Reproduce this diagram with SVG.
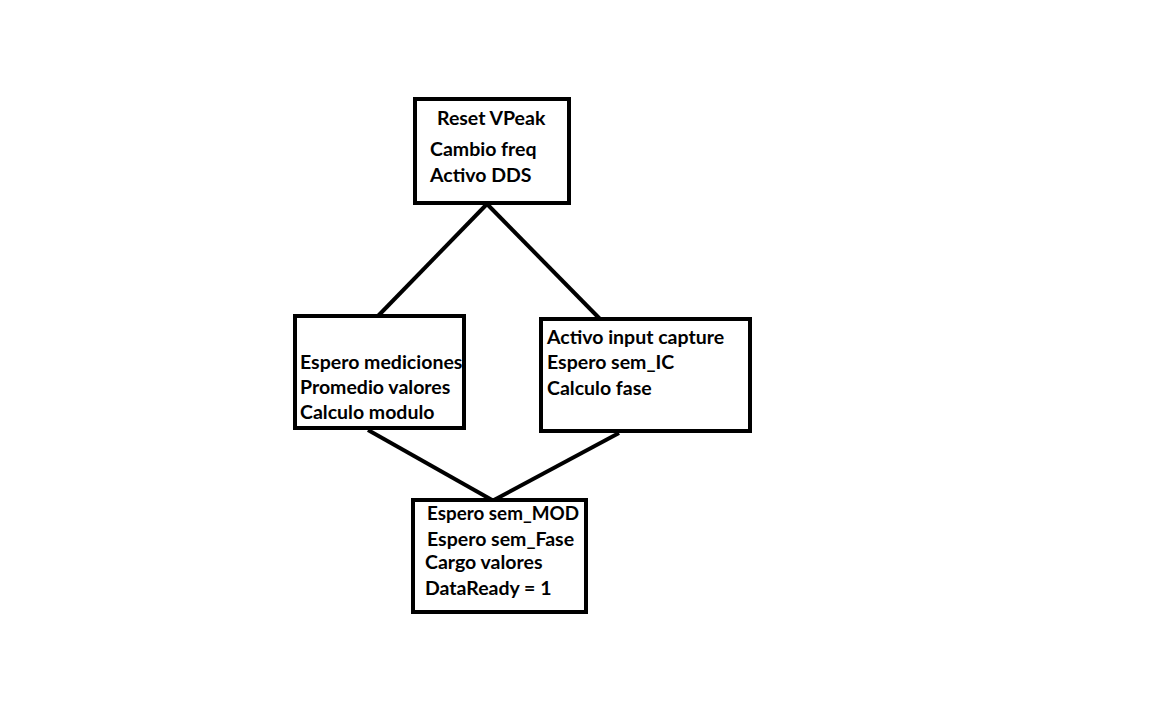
<svg xmlns="http://www.w3.org/2000/svg" width="1158" height="705" viewBox="0 0 1158 705">
<style>
.box{fill:#fff;stroke:#000;stroke-width:4}
.con{stroke:#000;stroke-width:4;fill:none}
text{font-family:Lato,"Open Sans","Liberation Sans",sans-serif;font-weight:bold;font-size:19.5px;fill:#000}
</style>
<rect width="1158" height="705" fill="#fff"/>
<g id="connectors">
<line class="con" x1="487" y1="204" x2="378" y2="316"/>
<line class="con" x1="487" y1="204" x2="600" y2="319"/>
<line class="con" x1="368" y1="430" x2="492" y2="500"/>
<line class="con" x1="619" y1="433" x2="494" y2="500"/>
</g>
<g id="n_top">
<rect class="box" x="415" y="99" width="154" height="104"/>
<text x="437" y="125">Reset VPeak</text>
<text x="430" y="156">Cambio freq</text>
<text x="430" y="182">Activo DDS</text>
</g>
<g id="n_left">
<rect class="box" x="295" y="316" width="169" height="112"/>
<text x="300" y="369">Espero mediciones</text>
<text x="300" y="394">Promedio valores</text>
<text x="300" y="419">Calculo modulo</text>
</g>
<g id="n_right">
<rect class="box" x="541" y="319" width="209" height="112"/>
<text x="547" y="344">Activo input capture</text>
<text x="547" y="369">Espero sem_IC</text>
<text x="547" y="395">Calculo fase</text>
</g>
<g id="n_bottom">
<rect class="box" x="413" y="500" width="173" height="112"/>
<text x="427" y="520" textLength="152" lengthAdjust="spacingAndGlyphs">Espero sem_MOD</text>
<text x="427" y="546">Espero sem_Fase</text>
<text x="425" y="569">Cargo valores</text>
<text x="425" y="595">DataReady = 1</text>
</g>
</svg>
